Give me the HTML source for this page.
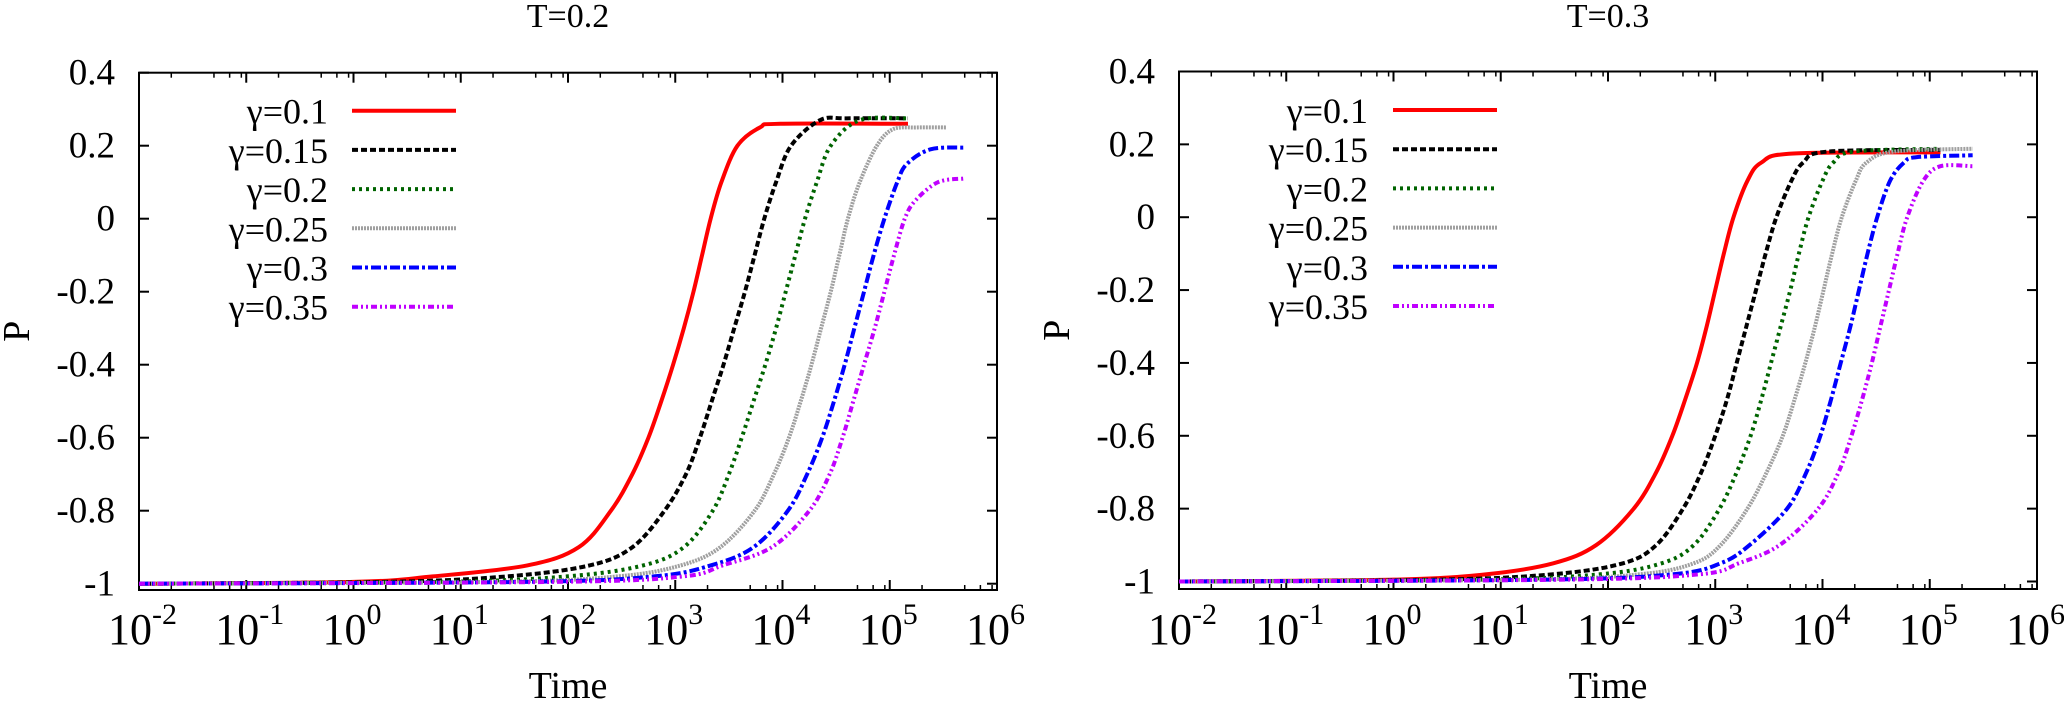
<!DOCTYPE html>
<html><head><meta charset="utf-8"><style>
html,body{margin:0;padding:0;background:#fff;}
svg{display:block;}
text{font-family:"Liberation Serif",serif;}
</style></head><body>
<svg id="chart" width="2064" height="701" viewBox="0 0 2064 701" xmlns="http://www.w3.org/2000/svg" font-family="Liberation Serif, serif"></svg>
<script>
const gammaLabels = ["γ=0.1","γ=0.15","γ=0.2","γ=0.25","γ=0.3","γ=0.35"];
const yTicks = [0.4,0.2,0,-0.2,-0.4,-0.6,-0.8,-1];
const yTickLabels = ["0.4","0.2","0","-0.2","-0.4","-0.6","-0.8","-1"];
const xDecades = [-2,-1,0,1,2,3,4,5,6];
// T=0.2 panel: log10(time) and P samples
const L_x_g010 = [-2,0,0.74,1.62,2.1,2.4,2.6,2.75,2.87,2.98,3.08,3.17,3.25,3.33,3.43,3.58,3.79,3.98,5.17];
const L_p_g010 = [-1,-0.995,-0.98,-0.95,-0.9,-0.8,-0.7,-0.6,-0.5,-0.4,-0.3,-0.2,-0.1,0,0.1,0.2,0.25,0.26,0.26];
const L_x_g015 = [-2,0.3,1.43,2.2,2.6,2.9,3.1,3.23,3.34,3.45,3.55,3.65,3.74,3.83,3.94,4.08,4.35,4.6,5.17];
const L_p_g015 = [-1,-0.995,-0.98,-0.95,-0.9,-0.8,-0.7,-0.6,-0.5,-0.4,-0.3,-0.2,-0.1,0,0.1,0.2,0.27,0.275,0.275];
const L_x_g020 = [-2,0.8,1.99,2.7,3.08,3.35,3.5,3.62,3.73,3.84,3.94,4.03,4.12,4.21,4.32,4.45,4.72,5.17];
const L_p_g020 = [-1,-0.995,-0.98,-0.95,-0.9,-0.8,-0.7,-0.6,-0.5,-0.4,-0.3,-0.2,-0.1,0,0.1,0.2,0.27,0.275];
const L_x_g025 = [-2,1.3,2.46,3.05,3.42,3.74,3.92,4.06,4.17,4.27,4.36,4.45,4.53,4.61,4.72,4.88,5.03,5.25,5.53];
const L_p_g025 = [-1,-0.995,-0.98,-0.95,-0.9,-0.8,-0.7,-0.6,-0.5,-0.4,-0.3,-0.2,-0.1,0,0.1,0.2,0.245,0.25,0.25];
const L_x_g030 = [-2,1.6,2.8,3.33,3.73,4.05,4.23,4.37,4.48,4.58,4.67,4.76,4.85,4.95,5.07,5.16,5.38,5.7];
const L_p_g030 = [-1,-0.995,-0.98,-0.95,-0.9,-0.8,-0.7,-0.6,-0.5,-0.4,-0.3,-0.2,-0.1,0,0.1,0.15,0.19,0.195];
const L_x_g035 = [-2,1.9,3.07,3.44,3.9,4.25,4.44,4.56,4.66,4.76,4.86,4.95,5.04,5.14,5.24,5.45,5.69];
const L_p_g035 = [-1,-0.995,-0.98,-0.95,-0.9,-0.8,-0.7,-0.6,-0.5,-0.4,-0.3,-0.2,-0.1,0,0.05,0.1,0.11];
// T=0.3 panel
const R_x_g010 = [-2,0,0.87,1.49,1.89,2.24,2.45,2.6,2.72,2.83,2.92,3.0,3.08,3.17,3.3,3.43,3.73,5.1];
const R_p_g010 = [-1,-0.995,-0.98,-0.95,-0.9,-0.8,-0.7,-0.6,-0.5,-0.4,-0.3,-0.2,-0.1,0,0.1,0.15,0.175,0.178];
const R_x_g015 = [-2,0.4,1.49,2.14,2.45,2.7,2.87,3.0,3.11,3.2,3.29,3.38,3.47,3.57,3.71,3.82,4.04,5.1];
const R_p_g015 = [-1,-0.995,-0.98,-0.95,-0.9,-0.8,-0.7,-0.6,-0.5,-0.4,-0.3,-0.2,-0.1,0,0.1,0.15,0.18,0.185];
const R_x_g020 = [-2,0.8,1.93,2.5,2.8,3.04,3.2,3.33,3.43,3.52,3.61,3.7,3.78,3.87,4.0,4.1,4.29,5.1];
const R_p_g020 = [-1,-0.995,-0.98,-0.95,-0.9,-0.8,-0.7,-0.6,-0.5,-0.4,-0.3,-0.2,-0.1,0,0.1,0.15,0.18,0.188];
const R_x_g025 = [-2,1.2,2.3,2.8,3.05,3.3,3.48,3.63,3.74,3.84,3.93,4.01,4.09,4.18,4.31,4.41,4.66,5.4];
const R_p_g025 = [-1,-0.995,-0.98,-0.95,-0.9,-0.8,-0.7,-0.6,-0.5,-0.4,-0.3,-0.2,-0.1,0,0.1,0.15,0.18,0.188];
const R_x_g030 = [-2,1.4,2.61,3.05,3.32,3.67,3.85,3.98,4.08,4.17,4.26,4.34,4.42,4.51,4.63,4.76,4.88,5.4];
const R_p_g030 = [-1,-0.995,-0.98,-0.95,-0.9,-0.8,-0.7,-0.6,-0.5,-0.4,-0.3,-0.2,-0.1,0,0.1,0.15,0.165,0.17];
const R_x_g035 = [-2,1.6,2.86,3.22,3.6,3.96,4.15,4.27,4.37,4.46,4.54,4.62,4.7,4.79,4.94,5.1,5.4];
const R_p_g035 = [-1,-0.995,-0.98,-0.95,-0.9,-0.8,-0.7,-0.6,-0.5,-0.4,-0.3,-0.2,-0.1,0,0.1,0.14,0.14];

const styles = [
  {c:"#ff0000",d:""},
  {c:"#000000",d:"6,3"},
  {c:"#006400",d:"3,4"},
  {c:"#a0a0a0",d:"2,1"},
  {c:"#0000ff",d:"10,3,3,3"},
  {c:"#c000ff",d:"6,3,2,3,2,3"}
];
const FF='Liberation Serif, serif';
const NS="http://www.w3.org/2000/svg";
const svg=document.getElementById('chart');
function el(tag,attrs,parent){const e=document.createElementNS(NS,tag);for(const k in attrs)e.setAttribute(k,attrs[k]);if(tag==='text')e.setAttribute('font-family',FF);(parent||svg).appendChild(e);return e;}

function panel(cfg){
  const g=el('g',{});
  
  
  const X=v=>cfg.x0+(v+2)/8*(cfg.x1-cfg.x0);
  const Y=v=>cfg.yTop+(0.4-v)/1.4*(cfg.yM1-cfg.yTop);
  const t=el('text',{x:(cfg.x0+cfg.x1)/2,y:27,'font-size':34,'text-anchor':'middle'},g);
  t.textContent=cfg.title;
  
  
  const fr=el('rect',{x:cfg.x0,y:cfg.yTop,width:cfg.x1-cfg.x0,height:cfg.yBot-cfg.yTop,fill:'none',stroke:'#000','stroke-width':2},g);
  
  
  yTicks.forEach((v,i)=>{
    const y=Y(v);
    el('line',{x1:cfg.x0,x2:cfg.x0+10,y1:y,y2:y,stroke:'#000','stroke-width':2},g);
    el('line',{x1:cfg.x1,x2:cfg.x1-10,y1:y,y2:y,stroke:'#000','stroke-width':2},g);
    const tx=el('text',{x:cfg.x0-24,y:y+12,'font-size':37,'text-anchor':'end'},g);
    tx.textContent=yTickLabels[i];
    
    
  });
  xDecades.forEach(d=>{
    const x=X(d);
    el('line',{x1:x,x2:x,y1:cfg.yBot,y2:cfg.yBot-10,stroke:'#000','stroke-width':2},g);
    el('line',{x1:x,x2:x,y1:cfg.yTop,y2:cfg.yTop+10,stroke:'#000','stroke-width':2},g);
    if(d<6){for(let m=2;m<10;m++){const xm=X(d+Math.log10(m));
      if(m!==2&&m!==5&&m!==7&&m!==9)continue;
      el('line',{x1:xm,x2:xm,y1:cfg.yBot,y2:cfg.yBot-5,stroke:'#000','stroke-width':1.5},g);
      el('line',{x1:xm,x2:xm,y1:cfg.yTop,y2:cfg.yTop+5,stroke:'#000','stroke-width':1.5},g);}}
    const tx=el('text',{x:x-31,y:644,'font-size':44,'text-anchor':'start'},g);
    
    
    const b=el('tspan',{},tx);b.textContent='10';
    const s=el('tspan',{dy:-20,'font-size':30},tx);s.textContent=String(d);
  });
  const xl=el('text',{x:(cfg.x0+cfg.x1)/2,y:698,'font-size':38,'text-anchor':'middle'},g);
  xl.textContent='Time';
  
  
  const yl=el('text',{x:0,y:0,'font-size':38,'text-anchor':'middle',transform:`translate(${cfg.x0-110},${(cfg.yTop+cfg.yBot)/2}) rotate(-90)`},g);
  yl.textContent='P';
  
  
  cfg.series.forEach((s,i)=>{
    const pts=s[0].map((lx,k)=>[X(lx),Y(s[1][k])]);
    let d='M'+pts[0][0]+','+pts[0][1];
    for(let k=0;k<pts.length-1;k++){
      const p0=pts[Math.max(k-1,0)],p1=pts[k],p2=pts[k+1],p3=pts[Math.min(k+2,pts.length-1)];
      const c1=[p1[0]+(p2[0]-p0[0])/6,p1[1]+(p2[1]-p0[1])/6];
      const c2=[p2[0]-(p3[0]-p1[0])/6,p2[1]-(p3[1]-p1[1])/6];
      d+=`C${c1[0]},${c1[1]} ${c2[0]},${c2[1]} ${p2[0]},${p2[1]}`;
    }
    const p=el('path',{d:d,fill:'none',stroke:styles[i].c,'stroke-width':4,'stroke-dasharray':styles[i].d},g);
    
    
    const ly=cfg.legY0+i*39.2;
    const lt=el('text',{x:cfg.legTextX,y:ly+13,'font-size':36,'text-anchor':'end'},g);
    lt.textContent=gammaLabels[i];
    
    
    const ll=el('line',{x1:cfg.legLineX,x2:cfg.legLineX+104,y1:ly,y2:ly,stroke:styles[i].c,'stroke-width':4,'stroke-dasharray':styles[i].d},g);
    
    
  });
}
panel({name:'panel-t02',title:'T=0.2',x0:139,x1:997,yTop:72.7,yM1:583.7,yBot:590,legTextX:328,legLineX:352,legY0:110.7,
  series:[[L_x_g010,L_p_g010],[L_x_g015,L_p_g015],[L_x_g020,L_p_g020],[L_x_g025,L_p_g025],[L_x_g030,L_p_g030],[L_x_g035,L_p_g035]]});
panel({name:'panel-t03',title:'T=0.3',x0:1179,x1:2037,yTop:71.5,yM1:581.5,yBot:589,legTextX:1368,legLineX:1393,legY0:110,
  series:[[R_x_g010,R_p_g010],[R_x_g015,R_p_g015],[R_x_g020,R_p_g020],[R_x_g025,R_p_g025],[R_x_g030,R_p_g030],[R_x_g035,R_p_g035]]});
</script>
</body></html>
